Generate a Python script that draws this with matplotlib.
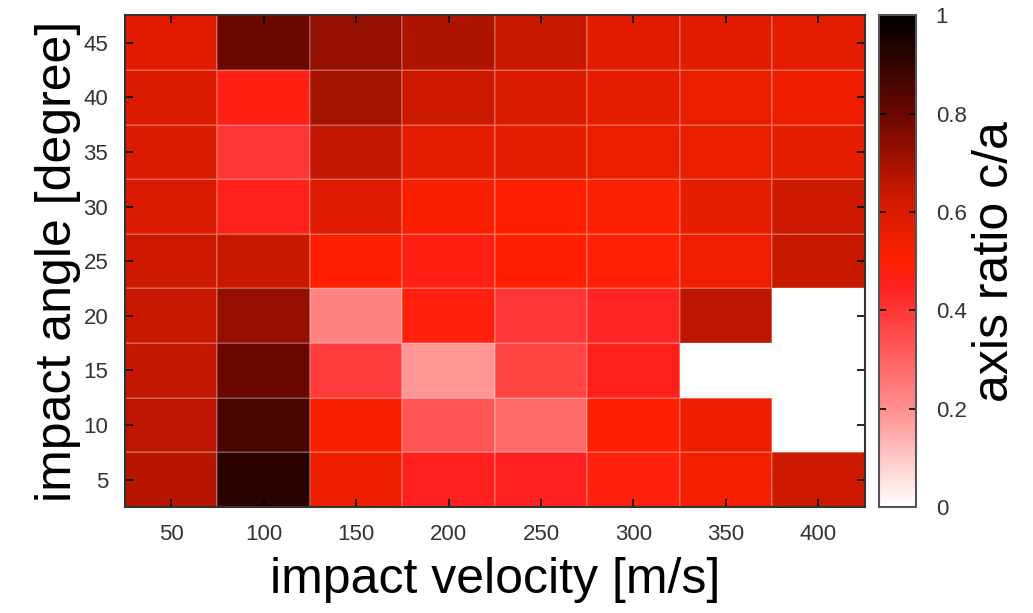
import matplotlib
matplotlib.use("Agg")
import matplotlib.pyplot as plt
import numpy as np
from matplotlib.colors import LinearSegmentedColormap

# data: axis ratio c/a, rows = impact angle (5..45), cols = impact velocity (50..400)
velocity = [50, 100, 150, 200, 250, 300, 350, 400]
angle = [5, 10, 15, 20, 25, 30, 35, 40, 45]
ratio_5 = [0.67, 0.92, 0.55, 0.45, 0.45, 0.48, 0.53, 0.63]
ratio_10 = [0.66, 0.86, 0.52, 0.33, 0.28, 0.50, 0.55, np.nan]
ratio_15 = [0.65, 0.80, 0.39, 0.19, 0.37, 0.46, np.nan, np.nan]
ratio_20 = [0.64, 0.73, 0.23, 0.48, 0.40, 0.44, 0.66, np.nan]
ratio_25 = [0.63, 0.64, 0.50, 0.47, 0.50, 0.49, 0.54, 0.64]
ratio_30 = [0.61, 0.46, 0.59, 0.52, 0.50, 0.51, 0.57, 0.63]
ratio_35 = [0.60, 0.40, 0.65, 0.57, 0.57, 0.56, 0.56, 0.57]
ratio_40 = [0.60, 0.47, 0.70, 0.63, 0.60, 0.57, 0.56, 0.55]
ratio_45 = [0.58, 0.80, 0.73, 0.68, 0.64, 0.58, 0.58, 0.57]

Z = np.array([ratio_5, ratio_10, ratio_15, ratio_20, ratio_25,
              ratio_30, ratio_35, ratio_40, ratio_45])

# white -> red -> black palette
cmap = LinearSegmentedColormap.from_list("wrk", [
    (0.0, "#ffffff"), (0.2, "#ff8e8e"), (0.45, "#ff2020"), (0.5, "#ff2000"),
    (0.62, "#d41a00"), (0.8, "#6a0800"), (1.0, "#000000")])
cmap.set_bad("white")

plt.rcParams["font.family"] = ["Liberation Sans", "DejaVu Sans"]

fig = plt.figure(figsize=(10.33, 6.13), dpi=100)
ax = fig.add_axes([0.121, 0.173, 0.716, 0.802])
cax = fig.add_axes([0.851, 0.173, 0.036, 0.802])

# cell edges from the centres
xe = np.append(np.array(velocity) - 25, velocity[-1] + 25)
ye = np.append(np.array(angle) - 2.5, angle[-1] + 2.5)
mesh = ax.pcolormesh(xe, ye, np.ma.masked_invalid(Z), cmap=cmap, vmin=0, vmax=1,
                     edgecolor=(1, 1, 1, 0.18), linewidth=1.2)

ax.set_xticks(velocity)
ax.set_yticks(angle)
ax.tick_params(direction="in", top=True, right=True, length=6, width=1.2,
               labelsize=16, labelcolor="#333333", pad=12)
for s in ax.spines.values():
    s.set_color("#333333")
    s.set_linewidth(1.5)
ax.set_xlabel("impact velocity [m/s]", fontsize=36, labelpad=9)
ax.set_ylabel("impact angle [degree]", fontsize=36, labelpad=2)

cb = fig.colorbar(mesh, cax=cax)
cb.set_ticks([0, 0.2, 0.4, 0.6, 0.8, 1])
cb.set_ticklabels(["0", "0.2", "0.4", "0.6", "0.8", "1"])
cax.tick_params(direction="in", left=True, right=True, length=5, width=1.2,
                labelsize=16, labelcolor="#333333", pad=14)
cb.outline.set_edgecolor("#555555")
cb.outline.set_linewidth(1.5)
cb.set_label("axis ratio c/a", fontsize=36, labelpad=4)

fig.savefig("out.png", dpi=100)
